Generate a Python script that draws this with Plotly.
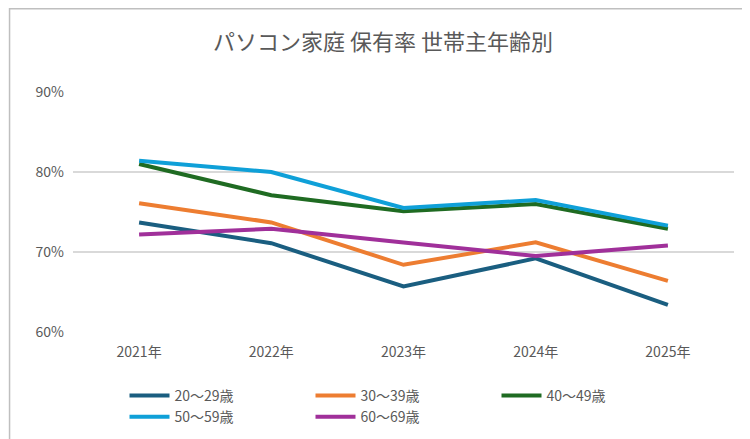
import plotly.graph_objects as go

years = ["2021年", "2022年", "2023年", "2024年", "2025年"]
age_20s = [73.7, 71.1, 65.7, 69.2, 63.4]
age_30s = [76.1, 73.7, 68.4, 71.2, 66.4]
age_40s = [81.0, 77.1, 75.1, 76.0, 72.9]
age_50s = [81.4, 80.0, 75.5, 76.5, 73.3]
age_60s = [72.2, 72.9, 71.2, 69.5, 70.8]

series = [
    ("20～29歳", age_20s, "#1a5e80"),
    ("30～39歳", age_30s, "#ed7d31"),
    ("40～49歳", age_40s, "#1f6b22"),
    ("50～59歳", age_50s, "#0fa0d8"),
    ("60～69歳", age_60s, "#a0309a"),
]

fig = go.Figure()
for name, vals, color in series:
    fig.add_trace(go.Scatter(
        x=years, y=[v / 100 for v in vals], mode="lines", name=name,
        line=dict(color=color, width=4)
    ))

font = "Noto Sans CJK JP"
fig.update_layout(
    width=750, height=439,
    margin=dict(l=65, r=24, t=84, b=115, autoexpand=False),
    paper_bgcolor="white", plot_bgcolor="white",
    title=dict(text="パソコン家庭 保有率 世帯主年齢別", x=0.5, xanchor="center", y=0.94,
               font=dict(family=font, size=22, color="#595959")),
    font=dict(family=font, color="#595959", size=14),
    legend=dict(orientation="h", x=0.5, xanchor="center", y=-0.31, yanchor="middle",
                font=dict(size=14), itemwidth=40, entrywidth=131, entrywidthmode="pixels"),
    shapes=[dict(type="rect", xref="paper", yref="paper", x0=-0.096, x1=1.033, y0=-0.472, y1=1.347,
                 line=dict(color="#bfbfbf", width=1.5))],
)
fig.update_yaxes(range=[0.6, 0.9], dtick=0.1, tickformat=".0%", gridcolor="#d9d9d9", gridwidth=1.5,
                 zeroline=False, showline=False, ticks="", ticklabelstandoff=8)
fig.update_xaxes(range=[-0.5, 4.5], showgrid=False, showline=False, ticks="", ticklabelstandoff=10)

fig.write_html("out.html")
